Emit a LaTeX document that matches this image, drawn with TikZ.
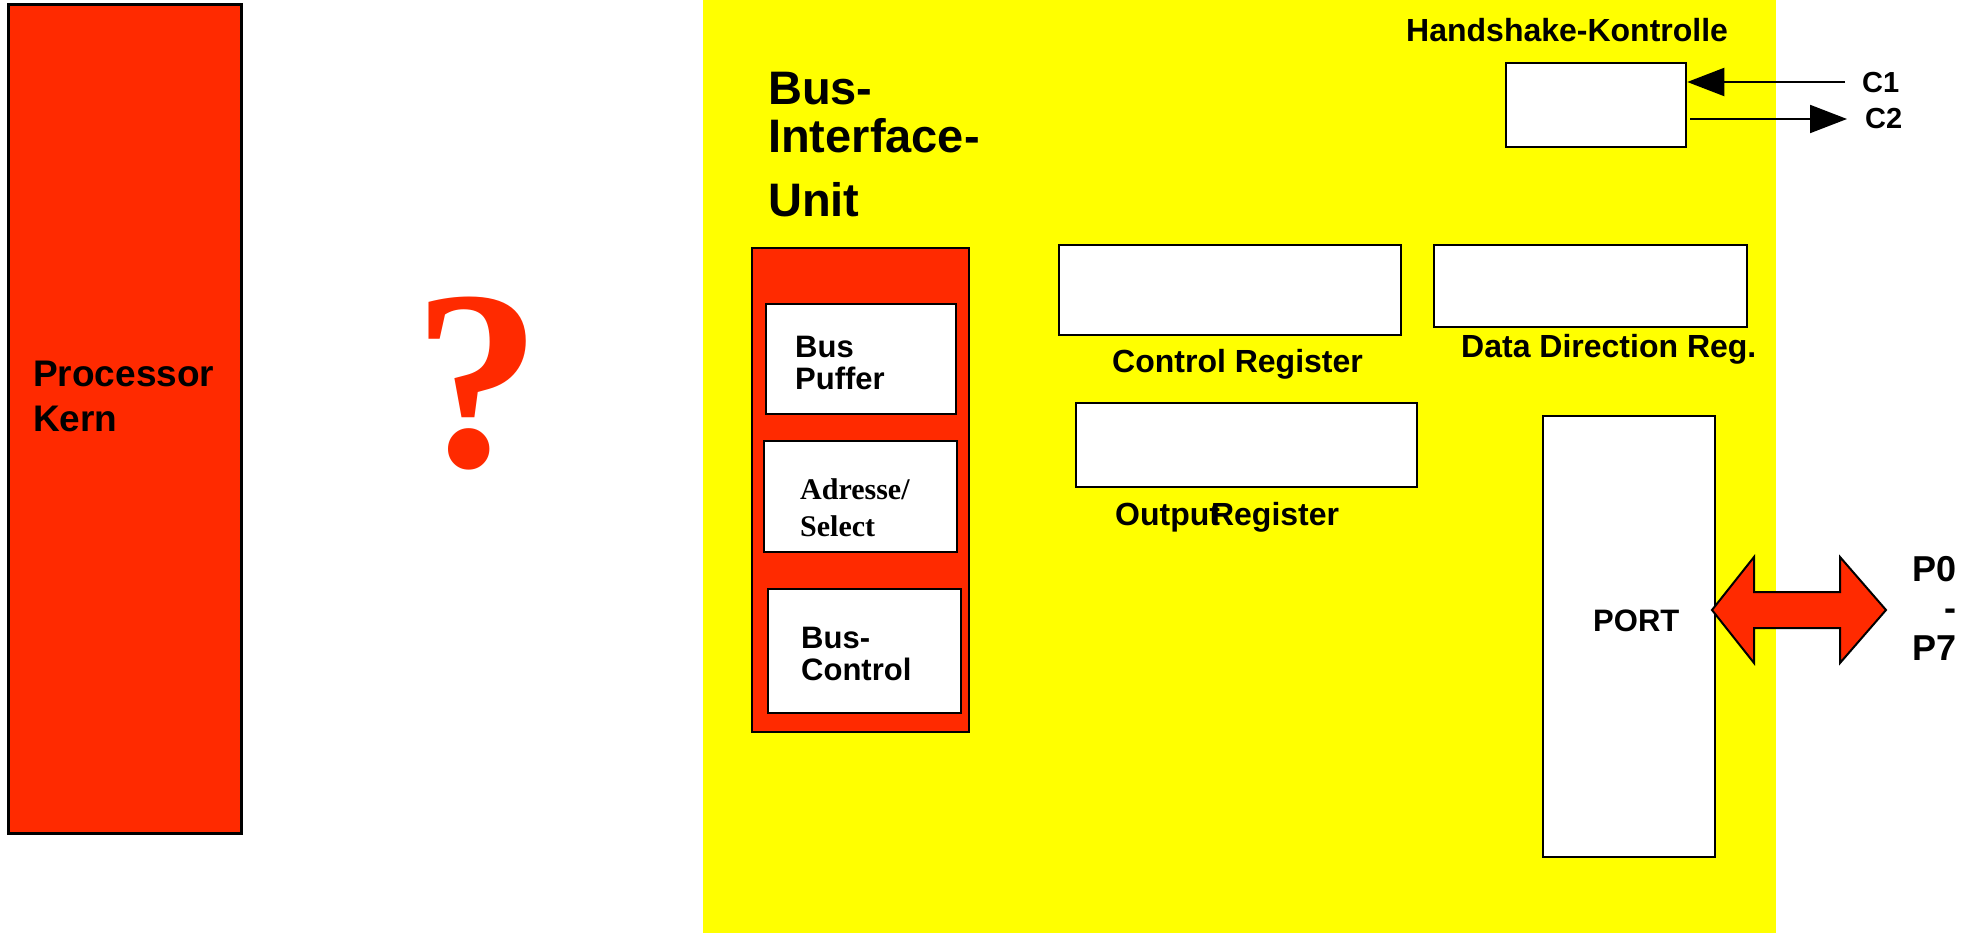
\documentclass[tikz,border=0pt]{standalone}
\usepackage{fontspec}
\setmainfont{Liberation Sans}
\newfontfamily\timesb{Liberation Serif}
\usetikzlibrary{arrows.meta,fit}
\definecolor{kred}{HTML}{FF2A00}
\definecolor{kyel}{HTML}{FFFF00}
\begin{document}
\begin{tikzpicture}[x=1pt,y=-1pt,
  blk/.style={draw=black, line width=2.5pt, inner sep=0pt, fill=white},
  redblk/.style={blk, fill=kred},
  lbl/.style={inner sep=0pt, anchor=base west, font=\bfseries\fontsize{#1}{#1}\selectfont},
  sig/.style={line width=2pt, -{Triangle[length=37pt,width=28pt]}}]
\useasboundingbox (0,0) rectangle (1979,933);
% background areas
\fill[white] (0,0) rectangle (1979,933);
\node[fill=kyel, inner sep=0pt, fit={(703,0) (1776,933)}] (yel) {};
% processor core
\node[redblk, line width=3pt, fit={(8,5) (241,833)}] (pk) {};
\node[lbl=37] (pkA) at (33,386) {Processor};
\node[lbl=37] (pkB) at (33,431) {Kern};
% question mark
\node[inner sep=0pt, anchor=base, text=kred, font=\timesb\bfseries\fontsize{256}{256}\selectfont] (qm) at (477,466) {?};
% bus interface unit title
\node[lbl=47] (biuA) at (768,105) {Bus-};
\node[lbl=47] (biuB) at (768,153) {Interface-};
\node[lbl=47] (biuC) at (768,217) {Unit};
% bus interface unit
\node[redblk, fit={(752,248) (969,732)}] (biu) {};
\node[blk, fit={(766,304) (956,414)}] (puf) {};
\node[lbl=31] (pufA) at (795,357) {Bus};
\node[lbl=31] (pufB) at (795,389) {Puffer};
\node[blk, fit={(764,441) (957,552)}] (adr) {};
\node[inner sep=0pt, anchor=base west, font=\timesb\bfseries\fontsize{30}{30}\selectfont] (adrA) at (800,499) {Adresse/};
\node[inner sep=0pt, anchor=base west, font=\timesb\bfseries\fontsize{30}{30}\selectfont] (adrB) at (800,536) {Select};
\node[blk, fit={(768,589) (961,713)}] (bct) {};
\node[lbl=31] (bctA) at (801,648) {Bus-};
\node[lbl=31] (bctB) at (801,680) {Control};
% registers
\node[blk, fit={(1059,245) (1401,335)}] (creg) {};
\node[lbl=32] (cregL) at (1112,373) {Control Register};
\node[blk, fit={(1434,245) (1747,327)}] (ddr) {};
\node[lbl=32] (ddrL) at (1461,358) {Data Direction Reg.};
\node[blk, fit={(1076,403) (1417,487)}] (oreg) {};
\node[lbl=32] (oregL) at (1115,525) {Output\kern-9pt Register};
% handshake
\node[lbl=32] (hsL) at (1406,42) {Handshake-Kontrolle};
\node[blk, fit={(1506,63) (1686,147)}] (hs) {};
\coordinate (c1s) at (1845,82);
\coordinate (c2e) at (1847,119);
\draw[sig] (c1s) -- (c1s -| hs.east);
\draw[sig] ([xshift=3pt]c2e -| hs.east) -- (c2e);
\node[lbl=29] (c1L) at (1862,93) {C1};
\node[lbl=29] (c2L) at (1865,129) {C2};
% port
\node[blk, fit={(1543,416) (1715,857)}] (port) {};
\node[lbl=31] (portL) at (1593,631) {PORT};
\draw[line width=2pt, fill=kred, line join=miter]
  (1712,610) -- (1754,557) -- (1754,592) -- (1840,592) -- (1840,557) -- (1886,610)
  -- (1840,663) -- (1840,628) -- (1754,628) -- (1754,663) -- cycle;
\node[inner sep=0pt, anchor=base east, font=\bfseries\fontsize{36}{36}\selectfont] (p0) at (1957,581) {P0};
\node[inner sep=0pt, anchor=base east, font=\bfseries\fontsize{36}{36}\selectfont] (pd) at (1957,620) {-};
\node[inner sep=0pt, anchor=base east, font=\bfseries\fontsize{36}{36}\selectfont] (p7) at (1957,660) {P7};
\end{tikzpicture}
\end{document}
